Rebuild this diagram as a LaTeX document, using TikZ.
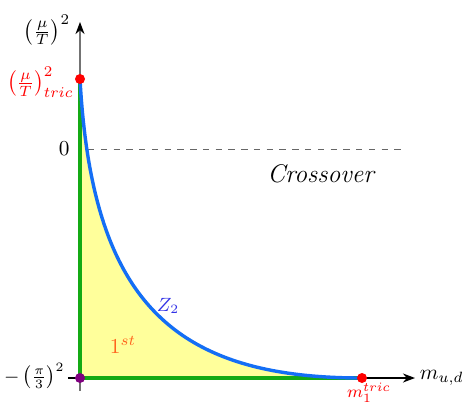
\documentclass[tikz,border=0pt]{standalone}
\usepackage{tikz}
\usetikzlibrary{arrows.meta, calc}
\usepackage{amsmath,amssymb}
\definecolor{curveblue}{RGB}{20, 110, 245}
\definecolor{linegreen}{RGB}{20, 170, 20}
\definecolor{fillyellow}{RGB}{255, 255, 155}
\definecolor{zblue}{RGB}{50, 50, 230}
\definecolor{firstorange}{RGB}{255, 100, 30}
\definecolor{dotpurple}{RGB}{128, 0, 128}

\begin{document}
\begin{tikzpicture}[x=4.7pt, y=4.7pt]
  \useasboundingbox (-8,-2.7) rectangle (38.5,37.8);

  \coordinate (O) at (0,0);
  \coordinate (tric) at (0,29.9);
  \coordinate (mtric) at (28.2,0);
  \coordinate (xend) at (33.5,0);
  \coordinate (yend) at (0,35.6);

  % first order region
  \fill[fillyellow] (O) -- (tric) .. controls (1.2,8) and (9,0) .. (mtric) -- cycle;

  % axes
  \draw[-Stealth, semithick] (-1.2,0) -- (xend) node[right, inner sep=2pt] (xlab) {$m_{u,d}$};
  \draw[-{Stealth[black]}, semithick, black!55] (0,-1.3) -- (yend);
  \node (ylab) at (-3.3,34.8) {$\left(\frac{\mu}{T}\right)^2$};

  % crossover line
  \draw[gray!80!black, dashed, thin] (0.8,22.9) -- (32.3,22.9);
  \node[anchor=east, inner sep=1pt] (zero) at (-0.8,22.9) {$0$};
  \node[font=\large] (cross) at (24.2,20.4) {$\mathit{Crossover}$};

  % boundaries of the first order region
  \draw[linegreen, line width=1.6pt] (tric) -- (O) -- (mtric);
  \draw[curveblue, line width=1.6pt] (tric) .. controls (1.2,8) and (9,0) .. (mtric);

  % points
  \fill[red] (tric) circle (0.5);
  \fill[red] (mtric) circle (0.5);
  \fill[dotpurple] (O) circle (0.5);

  % labels
  \node[red, anchor=east, inner sep=1pt] (triclab) at (-0.4,29.6) {$\left(\frac{\mu}{T}\right)^2_{tric}$};
  \node[anchor=east, inner sep=1pt, font=\small] (pilab) at (-1.3,0.2) {$-\left(\frac{\pi}{3}\right)^2$};
  \node[red, font=\footnotesize, inner sep=0pt] (mlab) at (28.9,-1.5) {$m_1^{tric}$};
  \node[zblue, font=\small] (zlab) at (8.8,7.2) {$Z_2$};
  \node[firstorange] (first) at (4.3,3.3) {$1^{st}$};
\end{tikzpicture}
\end{document}
